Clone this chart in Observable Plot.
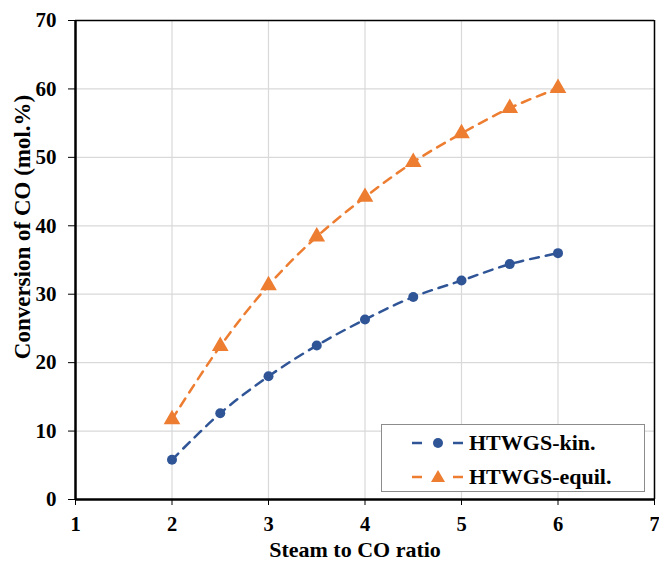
<!DOCTYPE html>
<html>
<head>
<meta charset="utf-8">
<script src="https://cdn.jsdelivr.net/npm/d3@7"></script>
<script src="https://cdn.jsdelivr.net/npm/@observablehq/plot@0.6"></script>
<style>
  body { margin: 0; background: #fff; }
  #wrap { position: relative; width: 659px; height: 561px; font-family: "Liberation Serif", "Times New Roman", serif; }
  #wrap svg text { font-weight: bold; font-family: "Liberation Serif", "Times New Roman", serif; fill: #000; }
  #legend { position: absolute; left: 381px; top: 424px; width: 264px; height: 68px; border: 1.5px solid #8c8c8c; background: #fff; box-sizing: border-box; font-weight: bold; font-size: 22px; color: #000; }
  .row { position: absolute; left: 30px; display: flex; align-items: center; line-height: 24px; height: 24px; }
  .row svg { margin-right: 6px; }
</style>
</head>
<body>
<div id="wrap"></div>
<script>
const ratios = [2, 2.5, 3, 3.5, 4, 4.5, 5, 5.5, 6];
const kinValues = [5.8, 12.6, 18.0, 22.5, 26.3, 29.6, 32.0, 34.4, 36.0];
const equilValues = [11.7, 22.4, 31.3, 38.4, 44.2, 49.3, 53.5, 57.2, 60.1];
const seriesNames = ["HTWGS-kin.", "HTWGS-equil."];
const xTicks = [1, 2, 3, 4, 5, 6, 7];
const yTicks = [0, 10, 20, 30, 40, 50, 60, 70];
const xTitle = "Steam to CO ratio";
const yTitle = "Conversion of CO (mol.%)";
const colors = ["#2F5597", "#ED7D31"];

const kin = ratios.map((x, i) => ({x, y: kinValues[i]}));
const equil = ratios.map((x, i) => ({x, y: equilValues[i]}));

const chart = Plot.plot({
  width: 659,
  height: 561,
  marginLeft: 75,
  marginRight: 5,
  marginTop: 20,
  marginBottom: 62,
  style: {fontFamily: "Liberation Serif, Times New Roman, serif", fontWeight: "bold", fontSize: "21px", color: "#000", background: "#fff", overflow: "visible"},
  x: {domain: [1, 7]},
  y: {domain: [0, 70]},
  marks: [
    Plot.gridX(xTicks, {stroke: "#d9d9d9", strokeOpacity: 1, strokeWidth: 1.2}),
    Plot.gridY(yTicks, {stroke: "#d9d9d9", strokeOpacity: 1, strokeWidth: 1.2}),
    Plot.ruleY([70], {stroke: "#000", strokeWidth: 1.5}),
    Plot.ruleX([7], {stroke: "#000", strokeWidth: 1.5}),
    Plot.axisX(xTicks, {tickSize: 6, tickPadding: 11, fontSize: 20.5, fontWeight: "bold", label: null}),
    Plot.axisY(yTicks, {tickSize: 7, tickPadding: 12, fontSize: 21, fontWeight: "bold", label: null}),
    Plot.text([xTitle], {frameAnchor: "bottom", dy: 50, dx: -10, fontSize: 22, fontWeight: "bold", lineAnchor: "middle", textAnchor: "middle"}),
    Plot.text([yTitle], {frameAnchor: "left", rotate: -90, dx: -53, dy: -33, fontSize: 23, fontWeight: "bold", lineAnchor: "middle", textAnchor: "middle"}),
    Plot.ruleY([0], {stroke: "#000", strokeWidth: 2.5}),
    Plot.ruleX([1], {stroke: "#000", strokeWidth: 2.5}),
    Plot.line(kin, {x: "x", y: "y", stroke: colors[0], strokeWidth: 2.5, strokeDasharray: "9,7", curve: "catmull-rom"}),
    Plot.line(equil, {x: "x", y: "y", stroke: colors[1], strokeWidth: 2.5, strokeDasharray: "9,7", curve: "catmull-rom"}),
    Plot.dot(kin, {x: "x", y: "y", fill: colors[0], r: 5, symbol: "circle"}),
    Plot.dot(equil, {x: "x", y: "y", fill: colors[1], r: 6.2, symbol: "triangle"})
  ]
});
const wrap = document.getElementById("wrap");
wrap.appendChild(chart);

const legend = document.createElement("div");
legend.id = "legend";
const symbols = [
  `<circle cx="26" cy="12" r="5" fill="${colors[0]}"/>`,
  `<path d="M26,5 L33,17 L19,17 Z" fill="${colors[1]}"/>`
];
seriesNames.forEach((name, i) => {
  const row = document.createElement("div");
  row.className = "row";
  row.style.top = (i === 0 ? 6 : 40) + "px";
  row.innerHTML = `<svg width="51" height="24"><line x1="0" y1="12" x2="10" y2="12" stroke="${colors[i]}" stroke-width="2.5"/><line x1="41" y1="12" x2="51" y2="12" stroke="${colors[i]}" stroke-width="2.5"/>${symbols[i]}</svg><span>${name}</span>`;
  legend.appendChild(row);
});
wrap.appendChild(legend);
</script>
</body>
</html>
